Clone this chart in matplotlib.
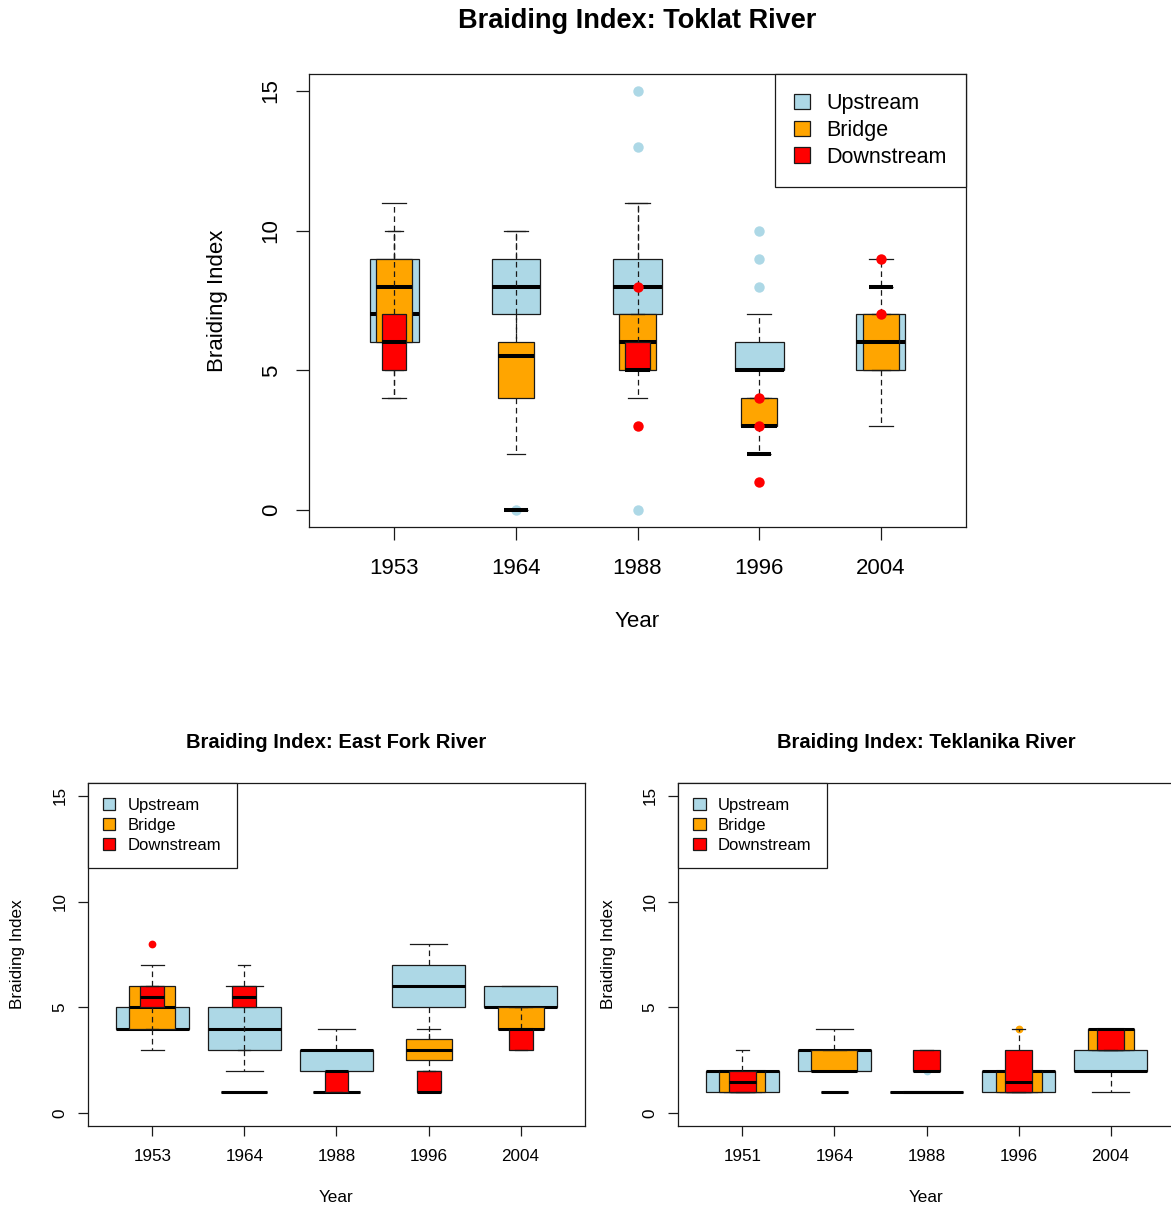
"""Braiding index of three rivers: overlaid boxplots by survey year and reach."""

import matplotlib

matplotlib.use("Agg")
import matplotlib.pyplot as plt
from matplotlib.patches import Patch

plt.rcParams["font.family"] = ["Liberation Sans", "DejaVu Sans"]

SERIES = ["Upstream", "Bridge", "Downstream"]
COLOURS = ["lightblue", "orange", "red"]

# each box is (lower whisker, q1, median, q3, upper whisker); outliers listed separately
TOKLAT_YEARS = ["1953", "1964", "1988", "1996", "2004"]
TOKLAT_UP = [(4, 6, 7, 9, 11), (5, 7, 8, 9, 10), (6, 7, 8, 9, 11), (4, 5, 5, 6, 7), (3, 5, 6, 7, 9)]
TOKLAT_UP_OUT = [[], [0], [0, 13, 15], [8, 9, 10], []]
TOKLAT_BRIDGE = [(5, 6, 8, 9, 10), (2, 4, 5.5, 6, 10), (4, 5, 6, 7, 11), (2, 3, 3, 4, 4), (5, 5, 6, 7, 7)]
TOKLAT_BRIDGE_OUT = [[], [], [], [], []]
TOKLAT_DOWN = [(4, 5, 6, 7, 10), (0, 0, 0, 0, 0), (5, 5, 5, 6, 7), (2, 2, 2, 2, 2), (8, 8, 8, 8, 8)]
TOKLAT_DOWN_OUT = [[], [], [3, 8], [1, 3, 4], [7, 9]]

EASTFORK_YEARS = ["1953", "1964", "1988", "1996", "2004"]
EASTFORK_UP = [(4, 4, 4, 5, 5), (2, 3, 4, 5, 6), (1, 2, 3, 3, 4), (3, 5, 6, 7, 8), (5, 5, 5, 6, 6)]
EASTFORK_UP_OUT = [[], [], [], [], []]
EASTFORK_BRIDGE = [(3, 4, 5, 6, 7), (1, 1, 1, 1, 1), (1, 1, 1, 1, 1), (2, 2.5, 3, 3.5, 4), (4, 4, 4, 5, 5)]
EASTFORK_BRIDGE_OUT = [[], [], [], [], []]
EASTFORK_DOWN = [(4, 5, 5.5, 6, 6), (3, 5, 5.5, 6, 7), (1, 1, 2, 2, 2), (1, 1, 1, 2, 2), (3, 3, 4, 4, 5)]
EASTFORK_DOWN_OUT = [[8], [], [], [], []]

TEKLANIKA_YEARS = ["1951", "1964", "1988", "1996", "2004"]
TEKLANIKA_UP = [(1, 1, 2, 2, 2), (2, 2, 3, 3, 4), (1, 1, 1, 1, 1), (1, 1, 2, 2, 2), (1, 2, 2, 3, 3)]
TEKLANIKA_UP_OUT = [[], [], [2], [], []]
TEKLANIKA_BRIDGE = [(1, 1, 2, 2, 2), (2, 2, 2, 3, 3), (1, 1, 1, 1, 1), (1, 1, 2, 2, 2), (3, 3, 4, 4, 4)]
TEKLANIKA_BRIDGE_OUT = [[], [], [], [4], []]
TEKLANIKA_DOWN = [(1, 1, 1.5, 2, 3), (1, 1, 1, 1, 1), (2, 2, 2, 3, 3), (1, 1, 1.5, 3, 4), (3, 3, 4, 4, 4)]
TEKLANIKA_DOWN_OUT = [[], [], [], [], []]

W, H = 1171, 1210
EDGE = "#1a1a1a"


def box_stats(boxes, outliers):
    return [
        dict(whislo=b[0], q1=b[1], med=b[2], q3=b[3], whishi=b[4], fliers=out)
        for b, out in zip(boxes, outliers)
    ]


def draw_panel(frame, title, years, series, widths, big, legend_loc):
    """frame is the plot box in pixels: left, top, right, bottom."""
    left, top, right, bottom = frame
    ax = fig.add_axes([left / W, (H - bottom) / H, (right - left) / W, (bottom - top) / H])
    positions = list(range(1, len(years) + 1))
    if big:
        fs_tick, fs_title, fs_leg, medlw, ms, ticklen, xpad, ypad = 16, 19.5, 15.5, 2.9, 7.5, 9.4, 13.2, 10.3
        leg_space, leg_pad = 0.26, 0.9
    else:
        fs_tick, fs_title, fs_leg, medlw, ms, ticklen, xpad, ypad = 12.3, 14.5, 12, 2.2, 5.6, 7.2, 9.2, 7.5
        leg_space, leg_pad = 0.3, 0.9

    for z, ((boxes, outliers), colour, width) in enumerate(zip(series, COLOURS, widths)):
        ax.bxp(
            box_stats(boxes, outliers),
            positions=positions,
            widths=width,
            patch_artist=True,
            manage_ticks=False,
            zorder=2 + z,
            boxprops=dict(facecolor=colour, edgecolor=EDGE, linewidth=0.9),
            whiskerprops=dict(color=EDGE, linewidth=0.9, linestyle=(0, (4.5, 3))),
            capprops=dict(color=EDGE, linewidth=0.9),
            medianprops=dict(color="black", linewidth=medlw, solid_capstyle="butt"),
            flierprops=dict(marker="o", markerfacecolor=colour, markeredgecolor="none", markersize=ms),
        )

    ax.set_xlim(0.3, len(years) + 0.7)
    ax.set_ylim(-0.6, 15.6)
    ax.set_xticks(positions, labels=years, fontsize=fs_tick)
    ax.set_yticks([0, 5, 10, 15], labels=["0", "5", "10", "15"], fontsize=fs_tick, rotation=90, va="center")
    ax.tick_params(axis="x", length=ticklen, width=0.9, pad=xpad, color=EDGE)
    ax.tick_params(axis="y", length=ticklen, width=0.9, pad=ypad, color=EDGE)
    for spine in ax.spines.values():
        spine.set_linewidth(0.9)
        spine.set_color(EDGE)

    cx = (left + right) / 2
    if big:
        title_y, xlab_y, ylab_x = 21, 622, 217
    else:
        title_y, xlab_y, ylab_x = 743, 1197, left - 70
        cx = (left + left + 497) / 2
    ax.set_title(title, fontsize=fs_title, fontweight="bold", y=(bottom - title_y) / (bottom - top),
                 x=(cx - left) / (right - left), pad=0, va="center")
    ax.set_xlabel("Year", fontsize=fs_tick, va="center")
    ax.xaxis.set_label_coords((cx - left) / (right - left), (bottom - xlab_y) / (bottom - top))
    ax.set_ylabel("Braiding Index", fontsize=fs_tick, va="center")
    ax.yaxis.set_label_coords((ylab_x - left) / (right - left), 0.5)

    handles = [Patch(facecolor=c, edgecolor=EDGE, linewidth=0.9, label=n) for n, c in zip(SERIES, COLOURS)]
    leg = ax.legend(
        handles=handles, loc=legend_loc, borderaxespad=0, fancybox=False, framealpha=1,
        edgecolor=EDGE, fontsize=fs_leg, handlelength=0.75, handleheight=0.7,
        handletextpad=0.75, labelspacing=leg_space, borderpad=leg_pad,
    )
    leg.get_frame().set_linewidth(0.9)
    return ax


fig = plt.figure(figsize=(W / 100, H / 100), dpi=100)

draw_panel(
    (309, 74, 966, 527), "Braiding Index: Toklat River", TOKLAT_YEARS,
    [(TOKLAT_UP, TOKLAT_UP_OUT), (TOKLAT_BRIDGE, TOKLAT_BRIDGE_OUT), (TOKLAT_DOWN, TOKLAT_DOWN_OUT)],
    [0.40, 0.30, 0.20], True, "upper right",
)
draw_panel(
    (88, 783, 585, 1126), "Braiding Index: East Fork River", EASTFORK_YEARS,
    [(EASTFORK_UP, EASTFORK_UP_OUT), (EASTFORK_BRIDGE, EASTFORK_BRIDGE_OUT), (EASTFORK_DOWN, EASTFORK_DOWN_OUT)],
    [0.80, 0.50, 0.26], False, "upper left",
)
draw_panel(
    (678, 783, 1175, 1126), "Braiding Index: Teklanika River", TEKLANIKA_YEARS,
    [(TEKLANIKA_UP, TEKLANIKA_UP_OUT), (TEKLANIKA_BRIDGE, TEKLANIKA_BRIDGE_OUT),
     (TEKLANIKA_DOWN, TEKLANIKA_DOWN_OUT)],
    [0.80, 0.50, 0.30], False, "upper left",
)

fig.savefig("out.png", dpi=100)
